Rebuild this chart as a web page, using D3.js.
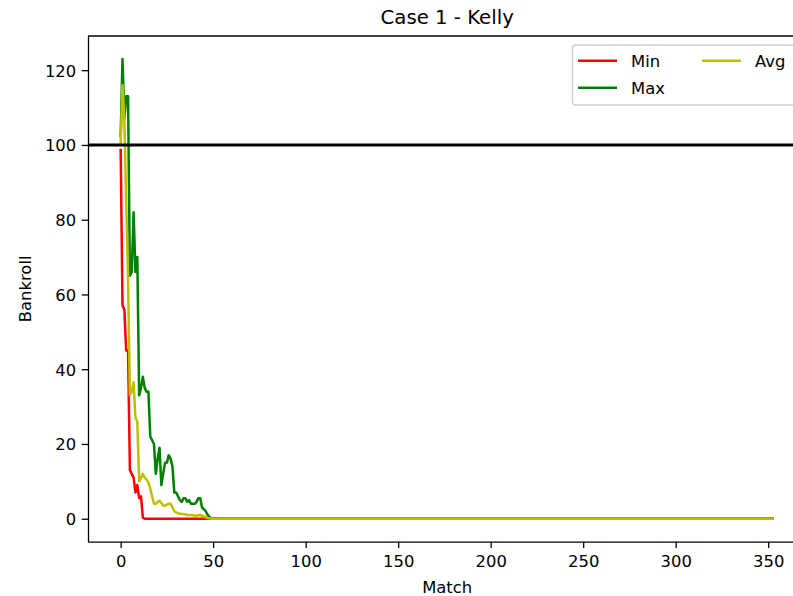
<!DOCTYPE html>
<html>
<head>
<meta charset="utf-8">
<script src="https://cdn.jsdelivr.net/npm/d3@7"></script>
<style>
  body { margin: 0; background: #fff; }
  text { font-family: "DejaVu Sans", sans-serif; fill: #000; }
</style>
</head>
<body>
<div class="chart-container"></div>
<script>
var title = "Case 1 - Kelly";
var xLabel = "Match";
var yLabel = "Bankroll";
var xTicks = [0, 50, 100, 150, 200, 250, 300, 350];
var yTicks = [0, 20, 40, 60, 80, 100, 120];
var startBankroll = 100;

var seriesNames = ["Min", "Max", "Avg"];
var seriesColors = ["#ff0000", "#008000", "#bfbf00"];

// bankroll per match, 354 matches (0..353)
var minBankroll = [
  99, 57, 56, 45, 45, 13, 12, 11, 7, 9,
  5.5, 6, 0.3, 0, 0, 0, 0, 0, 0, 0,
  0,0,0,0,0,0,0,0,0,0, 0,0,0,0,0,0,0,0,0,0, 0,0,0,0,0,0,0,0,0,0, 0,0,0,0,0,0,0,0,0,0, 0,0,0,0,0,0,0,0,0,0,
  0,0,0,0,0,0,0,0,0,0, 0,0,0,0,0,0,0,0,0,0, 0,0,0,0,0,0,0,0,0,0, 0,0,0,0,0,0,0,0,0,0, 0,0,0,0,0,0,0,0,0,0,
  0,0,0,0,0,0,0,0,0,0, 0,0,0,0,0,0,0,0,0,0, 0,0,0,0,0,0,0,0,0,0, 0,0,0,0,0,0,0,0,0,0, 0,0,0,0,0,0,0,0,0,0,
  0,0,0,0,0,0,0,0,0,0, 0,0,0,0,0,0,0,0,0,0, 0,0,0,0,0,0,0,0,0,0, 0,0,0,0,0,0,0,0,0,0, 0,0,0,0,0,0,0,0,0,0,
  0,0,0,0,0,0,0,0,0,0, 0,0,0,0,0,0,0,0,0,0, 0,0,0,0,0,0,0,0,0,0, 0,0,0,0,0,0,0,0,0,0, 0,0,0,0,0,0,0,0,0,0,
  0,0,0,0,0,0,0,0,0,0, 0,0,0,0,0,0,0,0,0,0, 0,0,0,0,0,0,0,0,0,0, 0,0,0,0,0,0,0,0,0,0, 0,0,0,0,0,0,0,0,0,0,
  0,0,0,0,0,0,0,0,0,0, 0,0,0,0,0,0,0,0,0,0, 0,0,0,0,0,0,0,0,0,0,
  0, 0, 0, 0
];

var maxBankroll = [
  102, 123, 107, 113, 113, 65, 66, 82, 66, 70,
  33, 35, 38, 35, 34, 34, 22, 21, 20, 12,
  16, 19, 9, 12, 15, 15, 17, 16, 14, 7,
  7, 6, 5, 4.5, 5.5, 5.5, 4.5, 5, 4, 4,
  4, 4.5, 5.5, 5.5, 3, 2.5, 2, 1, 0.5, 0,
  0,0,0,0,0,0,0,0,0,0, 0,0,0,0,0,0,0,0,0,0, 0,0,0,0,0,0,0,0,0,0, 0,0,0,0,0,0,0,0,0,0, 0,0,0,0,0,0,0,0,0,0,
  0,0,0,0,0,0,0,0,0,0, 0,0,0,0,0,0,0,0,0,0, 0,0,0,0,0,0,0,0,0,0, 0,0,0,0,0,0,0,0,0,0, 0,0,0,0,0,0,0,0,0,0,
  0,0,0,0,0,0,0,0,0,0, 0,0,0,0,0,0,0,0,0,0, 0,0,0,0,0,0,0,0,0,0, 0,0,0,0,0,0,0,0,0,0, 0,0,0,0,0,0,0,0,0,0,
  0,0,0,0,0,0,0,0,0,0, 0,0,0,0,0,0,0,0,0,0, 0,0,0,0,0,0,0,0,0,0, 0,0,0,0,0,0,0,0,0,0, 0,0,0,0,0,0,0,0,0,0,
  0,0,0,0,0,0,0,0,0,0, 0,0,0,0,0,0,0,0,0,0, 0,0,0,0,0,0,0,0,0,0, 0,0,0,0,0,0,0,0,0,0, 0,0,0,0,0,0,0,0,0,0,
  0,0,0,0,0,0,0,0,0,0, 0,0,0,0,0,0,0,0,0,0, 0,0,0,0,0,0,0,0,0,0, 0,0,0,0,0,0,0,0,0,0, 0,0,0,0,0,0,0,0,0,0,
  0, 0, 0, 0
];

var avgBankroll = [
  100, 116, 107, 85, 64, 33, 34, 36.5, 27, 26,
  10, 11, 12, 11, 10.5, 9.7, 8, 6, 4, 4,
  4.5, 4.8, 4.2, 3.5, 3.5, 3.8, 4, 4, 3, 2,
  1.7, 1.5, 1.3, 1.3, 1.2, 1.2, 1, 1, 1, 0.9,
  0.8, 0.8, 0.9, 1, 0.8, 0.6, 0.4, 0.2, 0.1, 0,
  0,0,0,0,0,0,0,0,0,0, 0,0,0,0,0,0,0,0,0,0, 0,0,0,0,0,0,0,0,0,0, 0,0,0,0,0,0,0,0,0,0, 0,0,0,0,0,0,0,0,0,0,
  0,0,0,0,0,0,0,0,0,0, 0,0,0,0,0,0,0,0,0,0, 0,0,0,0,0,0,0,0,0,0, 0,0,0,0,0,0,0,0,0,0, 0,0,0,0,0,0,0,0,0,0,
  0,0,0,0,0,0,0,0,0,0, 0,0,0,0,0,0,0,0,0,0, 0,0,0,0,0,0,0,0,0,0, 0,0,0,0,0,0,0,0,0,0, 0,0,0,0,0,0,0,0,0,0,
  0,0,0,0,0,0,0,0,0,0, 0,0,0,0,0,0,0,0,0,0, 0,0,0,0,0,0,0,0,0,0, 0,0,0,0,0,0,0,0,0,0, 0,0,0,0,0,0,0,0,0,0,
  0,0,0,0,0,0,0,0,0,0, 0,0,0,0,0,0,0,0,0,0, 0,0,0,0,0,0,0,0,0,0, 0,0,0,0,0,0,0,0,0,0, 0,0,0,0,0,0,0,0,0,0,
  0,0,0,0,0,0,0,0,0,0, 0,0,0,0,0,0,0,0,0,0, 0,0,0,0,0,0,0,0,0,0, 0,0,0,0,0,0,0,0,0,0, 0,0,0,0,0,0,0,0,0,0,
  0, 0, 0, 0
];

var series = [minBankroll, maxBankroll, avgBankroll];

var W = 793, H = 596;
var plotLeft = 88, plotRight = 806.4, plotTop = 36, plotBottom = 541.7;
var fontSize = 16.4;

var svg = d3.select("div.chart-container")
  .append("svg")
  .attr("width", W)
  .attr("height", H);

svg.append("rect").attr("width", W).attr("height", H).attr("fill", "#fff");

// matplotlib style 5% margins
var n = minBankroll.length - 1;
var yMax = d3.max(series, function(s) { return d3.max(s); });
var yMin = d3.min(series, function(s) { return d3.min(s); });
var x = d3.scaleLinear()
  .domain([-0.05 * n, n * 1.05])
  .range([plotLeft, plotRight]);
var y = d3.scaleLinear()
  .domain([yMin - 0.05 * (yMax - yMin), yMax + 0.05 * (yMax - yMin)])
  .range([plotBottom, plotTop]);

var line = d3.line()
  .x(function(d, i) { return x(i); })
  .y(function(d) { return y(d); });

series.forEach(function(s, k) {
  svg.append("path")
    .datum(s)
    .attr("fill", "none")
    .attr("stroke", seriesColors[k])
    .attr("stroke-width", 2.5)
    .attr("stroke-linejoin", "round")
    .attr("d", line);
});

// starting bankroll reference line
svg.append("line")
  .attr("x1", plotLeft).attr("x2", plotRight)
  .attr("y1", y(startBankroll)).attr("y2", y(startBankroll))
  .attr("stroke", "#000")
  .attr("stroke-width", 3);

// axes
var xAxis = svg.append("g")
  .attr("transform", "translate(0," + plotBottom + ")")
  .call(d3.axisBottom(x).tickValues(xTicks).tickSize(6.3).tickPadding(7).tickSizeOuter(0));
var yAxis = svg.append("g")
  .attr("transform", "translate(" + plotLeft + ",0)")
  .call(d3.axisLeft(y).tickValues(yTicks).tickSize(6.3).tickPadding(5.5).tickSizeOuter(0));

[xAxis, yAxis].forEach(function(g) {
  g.select(".domain").attr("stroke", "#000").attr("stroke-width", 1.3);
  g.selectAll(".tick line").attr("stroke", "#000").attr("stroke-width", 1.3);
  g.selectAll(".tick text")
    .attr("font-family", "DejaVu Sans")
    .attr("font-size", fontSize)
    .attr("fill", "#000");
});
yAxis.selectAll(".tick text").attr("dy", "0.36em");

// top spine
svg.append("line")
  .attr("x1", plotLeft).attr("x2", plotRight)
  .attr("y1", plotTop).attr("y2", plotTop)
  .attr("stroke", "#000").attr("stroke-width", 1.3);

// labels
svg.append("text")
  .attr("x", (plotLeft + plotRight) / 2).attr("y", 23.5)
  .attr("text-anchor", "middle")
  .attr("font-size", 19.7)
  .text(title);
svg.append("text")
  .attr("x", (plotLeft + plotRight) / 2).attr("y", 593)
  .attr("text-anchor", "middle")
  .attr("font-size", fontSize)
  .text(xLabel);
svg.append("text")
  .attr("transform", "translate(31," + (plotTop + plotBottom) / 2 + ") rotate(-90)")
  .attr("text-anchor", "middle")
  .attr("font-size", fontSize)
  .text(yLabel);

// legend, 2 columns
var legend = svg.append("g");
legend.append("rect")
  .attr("x", 572.5).attr("y", 45)
  .attr("width", 223.5).attr("height", 60)
  .attr("rx", 3)
  .attr("fill", "#fff").attr("fill-opacity", 0.8)
  .attr("stroke", "#ccc").attr("stroke-width", 1.3);

var slots = [{x: 578, y: 60.7}, {x: 578, y: 87.7}, {x: 702, y: 60.7}];
seriesNames.forEach(function(name, k) {
  var s = slots[k];
  legend.append("line")
    .attr("x1", s.x).attr("x2", s.x + 39)
    .attr("y1", s.y).attr("y2", s.y)
    .attr("stroke", seriesColors[k])
    .attr("stroke-width", 2.5);
  legend.append("text")
    .attr("x", s.x + 53).attr("y", s.y + 6)
    .attr("font-size", fontSize)
    .text(name);
});
</script>
</body>
</html>
